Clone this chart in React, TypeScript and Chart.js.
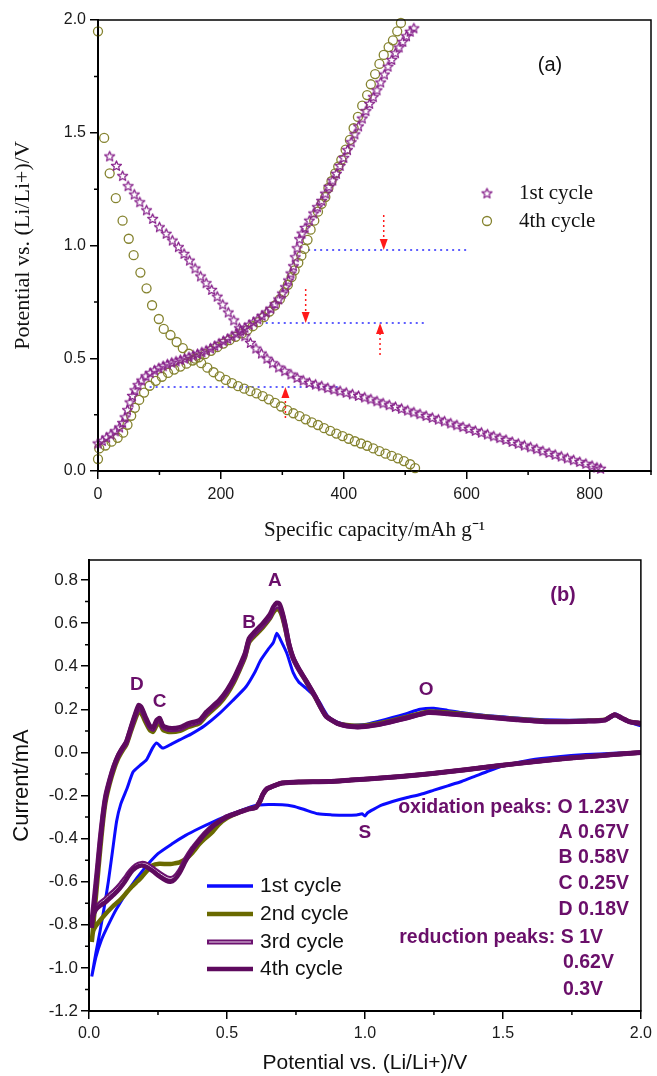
import React, { useEffect, useRef } from 'react';
import { Chart, registerables } from 'chart.js';
Chart.register(...registerables);

// ---------------- Panel (a): charge / discharge profiles ----------------
const cycle1DischargeCap = [19,30,40,49,59,68,79,89,100,111,121,131,140,149,158,167,176,185,194,203,212,221,230,239,248,257,266,275,284,294,304,314,324,334,344,354,364,374,384,394,404,414,424,434,444,454,464,474,484,494,504,514,524,534,544,554,564,574,584,594,604,614,624,634,644,654,664,674,684,694,704,714,724,734,744,754,764,774,784,794,804,812,818];
const cycle1DischargeV = [1.397,1.355,1.31,1.265,1.228,1.194,1.158,1.12,1.083,1.054,1.024,0.995,0.965,0.935,0.9,0.865,0.835,0.805,0.775,0.74,0.705,0.67,0.635,0.6,0.57,0.545,0.523,0.5,0.48,0.461,0.445,0.43,0.415,0.403,0.393,0.385,0.378,0.37,0.363,0.356,0.349,0.342,0.335,0.328,0.32,0.311,0.302,0.294,0.286,0.278,0.27,0.262,0.254,0.246,0.238,0.23,0.222,0.213,0.205,0.197,0.189,0.18,0.172,0.164,0.156,0.148,0.14,0.131,0.123,0.115,0.107,0.099,0.09,0.082,0.074,0.066,0.058,0.05,0.042,0.034,0.025,0.017,0.012];
const cycle1ChargeCap = [0,7,14,21,28,35,40,44,48,52,56,60,65,71,78,85,92,99,106,113,120,127,134,141,148,155,162,169,176,183,190,197,204,211,218,225,232,239,246,253,260,267,274,281,288,294,300,305,310,314,318,321,324,328,332,337,344,351,357,364,370,376,382,388,394,400,406,412,418,424,430,436,442,448,454,460,466,472,478,484,490,496,502,508,514];
const cycle1ChargeV = [0.124,0.135,0.15,0.163,0.178,0.195,0.215,0.24,0.272,0.306,0.335,0.36,0.383,0.403,0.422,0.436,0.448,0.458,0.467,0.475,0.482,0.488,0.494,0.5,0.507,0.514,0.521,0.528,0.536,0.545,0.556,0.567,0.578,0.588,0.599,0.611,0.624,0.637,0.65,0.662,0.675,0.69,0.705,0.722,0.742,0.763,0.789,0.817,0.847,0.878,0.91,0.95,0.99,1.03,1.055,1.08,1.112,1.144,1.172,1.2,1.232,1.262,1.29,1.32,1.355,1.39,1.425,1.46,1.495,1.53,1.565,1.598,1.63,1.66,1.69,1.725,1.76,1.795,1.825,1.855,1.88,1.905,1.93,1.95,1.965];
const cycle4DischargeCap = [0,10,19,29,40,50,58,69,79,88,99,107,118,128,138,148,158,168,178,188,198,208,218,228,238,248,258,268,278,288,298,308,318,328,338,348,358,368,378,388,398,408,418,428,438,448,458,468,478,488,498,508,516];
const cycle4DischargeV = [1.95,1.477,1.32,1.21,1.11,1.03,0.957,0.88,0.81,0.735,0.674,0.63,0.603,0.572,0.545,0.52,0.498,0.478,0.458,0.438,0.42,0.404,0.39,0.376,0.365,0.354,0.344,0.332,0.318,0.302,0.286,0.27,0.256,0.243,0.229,0.216,0.204,0.19,0.178,0.166,0.155,0.143,0.132,0.122,0.112,0.1,0.088,0.077,0.067,0.056,0.044,0.03,0.013];
const cycle4ChargeCap = [0,2,12,22,32,41,48,54,60,67,75,84,94,104,114,124,134,144,154,164,174,184,194,204,214,224,234,243,252,261,270,279,288,296,303,309,315,320,326,331,336,341,346,352,358,364,370,375,380,386,391,396,403,410,416,423,430,438,444,451,458,465,473,480,487,493];
const cycle4ChargeV = [0.053,0.10,0.113,0.13,0.147,0.17,0.205,0.245,0.28,0.315,0.348,0.378,0.4,0.418,0.435,0.45,0.463,0.476,0.49,0.504,0.518,0.533,0.549,0.565,0.58,0.595,0.61,0.625,0.642,0.66,0.682,0.707,0.734,0.762,0.792,0.826,0.86,0.89,0.923,0.955,0.985,1.025,1.07,1.11,1.15,1.185,1.215,1.255,1.285,1.32,1.35,1.38,1.425,1.468,1.52,1.57,1.62,1.667,1.715,1.76,1.805,1.845,1.88,1.91,1.95,1.987];

const capTicks = [0, 200, 400, 600, 800];
const capMinorTicks = [100, 300, 500, 700, 900];
const potTicks = [0, 0.5, 1.0, 1.5, 2.0];
const potMinorTicks = [0.25, 0.75, 1.25, 1.75];

// blue dotted guide lines (potential, from capacity, to capacity)
const guideV = [0.98, 0.656, 0.372];
const guideFrom = [342, 273, 84];
const guideTo = [604, 531, 395];
// red dotted arrows (capacity, tail potential, tip potential)
const arrowCap = [465, 338, 459, 305];
const arrowFrom = [1.135, 0.807, 0.514, 0.235];
const arrowTo = [0.98, 0.656, 0.656, 0.372];
const legendA = ['1st cycle', '4th cycle'];

// ---------------- Panel (b): cyclic voltammetry ----------------
const cv1DownV = [2.0,1.9,1.8,1.7,1.6,1.5,1.45,1.4,1.35,1.3,1.25,1.2,1.15,1.1,1.06,1.03,1.01,1.0,0.99,0.97,0.93,0.88,0.83,0.78,0.74,0.7,0.65,0.6,0.55,0.5,0.45,0.4,0.35,0.3,0.25,0.2,0.15,0.1,0.07,0.045,0.025,0.01];
const cv1DownI = [0.0,-0.004,-0.01,-0.02,-0.035,-0.063,-0.085,-0.11,-0.135,-0.155,-0.175,-0.195,-0.21,-0.228,-0.245,-0.265,-0.28,-0.295,-0.285,-0.29,-0.292,-0.29,-0.285,-0.265,-0.25,-0.243,-0.242,-0.247,-0.27,-0.295,-0.322,-0.352,-0.385,-0.425,-0.47,-0.54,-0.625,-0.725,-0.8,-0.87,-0.95,-1.04];
const cv1UpV = [0.01,0.025,0.04,0.055,0.07,0.085,0.1,0.115,0.137,0.16,0.185,0.208,0.23,0.245,0.267,0.3,0.328,0.37,0.42,0.472,0.52,0.569,0.6,0.623,0.65,0.668,0.681,0.695,0.717,0.74,0.76,0.785,0.81,0.832,0.85,0.868,0.9,0.94,1.0,1.05,1.1,1.15,1.2,1.25,1.3,1.35,1.43,1.5,1.6,1.7,1.8,1.87,1.9,1.91,1.93,1.96,2.0];
const cv1UpI = [-1.04,-0.93,-0.83,-0.72,-0.6,-0.46,-0.32,-0.24,-0.17,-0.09,-0.06,-0.035,0.02,0.044,0.02,0.04,0.058,0.085,0.125,0.18,0.24,0.305,0.37,0.43,0.48,0.51,0.553,0.52,0.46,0.37,0.327,0.3,0.27,0.24,0.2,0.165,0.14,0.127,0.13,0.145,0.162,0.18,0.2,0.205,0.195,0.185,0.172,0.165,0.155,0.15,0.15,0.152,0.168,0.178,0.158,0.14,0.123];

const sweepDownV = [2.0,1.9,1.8,1.67,1.55,1.43,1.3,1.19,1.07,0.95,0.87,0.76,0.7,0.68,0.645,0.63,0.62,0.605,0.58,0.55,0.5,0.47,0.447,0.42,0.4,0.375,0.35,0.328,0.31,0.295,0.28,0.255,0.23,0.21,0.19,0.17,0.15,0.13,0.112,0.09,0.076,0.06,0.04,0.025,0.015,0.01];
const sweepUpV = [0.01,0.02,0.03,0.04,0.05,0.06,0.075,0.09,0.105,0.12,0.135,0.15,0.165,0.18,0.19,0.205,0.22,0.232,0.245,0.256,0.268,0.29,0.33,0.36,0.4,0.425,0.472,0.5,0.525,0.545,0.565,0.58,0.6,0.63,0.655,0.668,0.68,0.69,0.7,0.712,0.724,0.74,0.76,0.786,0.82,0.858,0.9,0.95,1.0,1.07,1.15,1.23,1.3,1.43,1.55,1.67,1.8,1.87,1.905,1.93,1.96,2.0];

const cv2DownI = [0.0,-0.01,-0.02,-0.035,-0.052,-0.07,-0.09,-0.105,-0.118,-0.128,-0.135,-0.137,-0.142,-0.15,-0.17,-0.195,-0.225,-0.255,-0.262,-0.275,-0.305,-0.335,-0.37,-0.4,-0.425,-0.465,-0.495,-0.51,-0.515,-0.518,-0.518,-0.517,-0.525,-0.55,-0.58,-0.605,-0.63,-0.66,-0.685,-0.71,-0.728,-0.75,-0.78,-0.805,-0.83,-0.88];
const cv2UpI = [-0.88,-0.74,-0.6,-0.46,-0.33,-0.23,-0.145,-0.08,-0.03,0.005,0.035,0.09,0.145,0.19,0.18,0.14,0.105,0.095,0.125,0.135,0.105,0.095,0.1,0.118,0.135,0.17,0.225,0.27,0.325,0.38,0.44,0.51,0.54,0.58,0.62,0.65,0.665,0.66,0.63,0.57,0.5,0.435,0.385,0.33,0.255,0.17,0.135,0.125,0.125,0.14,0.165,0.19,0.185,0.168,0.155,0.145,0.147,0.152,0.175,0.16,0.143,0.135];
const cv3DownI = [0.0,-0.01,-0.02,-0.035,-0.052,-0.07,-0.09,-0.105,-0.118,-0.128,-0.135,-0.137,-0.142,-0.15,-0.168,-0.195,-0.225,-0.255,-0.262,-0.275,-0.298,-0.322,-0.342,-0.375,-0.405,-0.445,-0.495,-0.55,-0.578,-0.585,-0.58,-0.56,-0.537,-0.52,-0.515,-0.525,-0.55,-0.585,-0.615,-0.645,-0.66,-0.68,-0.7,-0.72,-0.75,-0.79];
const cv3UpI = [-0.79,-0.67,-0.545,-0.41,-0.295,-0.205,-0.128,-0.065,-0.018,0.015,0.044,0.102,0.16,0.208,0.2,0.156,0.118,0.108,0.142,0.152,0.118,0.106,0.11,0.128,0.143,0.18,0.235,0.282,0.336,0.39,0.45,0.52,0.55,0.59,0.628,0.662,0.68,0.676,0.643,0.58,0.503,0.437,0.386,0.333,0.258,0.17,0.135,0.12,0.12,0.135,0.16,0.185,0.18,0.165,0.152,0.142,0.145,0.15,0.175,0.16,0.142,0.135];
const cv4DownI = [0.0,-0.01,-0.02,-0.035,-0.052,-0.07,-0.09,-0.105,-0.118,-0.128,-0.135,-0.137,-0.142,-0.15,-0.17,-0.195,-0.225,-0.255,-0.262,-0.275,-0.3,-0.322,-0.345,-0.38,-0.41,-0.45,-0.505,-0.56,-0.59,-0.6,-0.595,-0.575,-0.55,-0.533,-0.525,-0.535,-0.56,-0.6,-0.63,-0.66,-0.676,-0.695,-0.712,-0.73,-0.76,-0.815];
const cv4UpI = [-0.815,-0.69,-0.56,-0.42,-0.3,-0.21,-0.13,-0.065,-0.015,0.02,0.05,0.11,0.17,0.22,0.21,0.165,0.125,0.115,0.15,0.16,0.125,0.113,0.117,0.135,0.15,0.188,0.243,0.29,0.345,0.4,0.46,0.53,0.56,0.6,0.64,0.675,0.695,0.69,0.655,0.59,0.51,0.44,0.39,0.335,0.26,0.17,0.135,0.12,0.12,0.135,0.16,0.185,0.18,0.165,0.152,0.142,0.145,0.15,0.175,0.16,0.142,0.135];

const cvLabels = ['1st cycle', '2nd cycle', '3rd cycle', '4th cycle'];
const vTicks = [0, 0.5, 1.0, 1.5, 2.0];
const vMinorTicks = [0.25, 0.75, 1.25, 1.75];
const iTicks = [-1.2, -1.0, -0.8, -0.6, -0.4, -0.2, 0, 0.2, 0.4, 0.6, 0.8];
const iMinorTicks = [-1.1, -0.9, -0.7, -0.5, -0.3, -0.1, 0.1, 0.3, 0.5, 0.7];

const peakLetters = ['A', 'B', 'D', 'C', 'O', 'S'];
const peakLetterV = [0.674, 0.58, 0.173, 0.256, 1.222, 1.0];
const peakLetterI = [0.795, 0.6, 0.314, 0.234, 0.29, -0.373];
const oxidationNotes = ['oxidation peaks: O 1.23V', 'A 0.67V', 'B 0.58V', 'C 0.25V', 'D 0.18V'];
const reductionNotes = ['reduction peaks: S 1V', '0.62V', '0.3V'];

// ---------------- styling ----------------
const SANS = '"Liberation Sans", Arial, sans-serif';
const SERIF = '"Liberation Serif", "Times New Roman", serif';
const STAR = '#86208a';
const CIRCLE = '#85832f';
const BLUE = '#0b0bff';
const OLIVE = '#6a6a00';
const PURPLE3 = '#6c1270';
const PURPLE4 = '#5e0a5e';
const INNER3 = '#ead8ea';
const NOTE = '#6a0f6a';

function pts(xs: number[], ys: number[]) {
  return xs.map((x, i) => ({ x, y: ys[i] }));
}

function makeStar(color: string, r: number) {
  const size = Math.ceil(r * 2 + 4);
  const c = document.createElement('canvas');
  c.width = size;
  c.height = size;
  const g = c.getContext('2d')!;
  g.strokeStyle = color;
  g.lineWidth = 1.25;
  g.lineJoin = 'round';
  g.beginPath();
  const cx = size / 2, cy = size / 2 + 0.6;
  for (let i = 0; i < 10; i++) {
    const ang = -Math.PI / 2 + (i * Math.PI) / 5;
    const rr = i % 2 === 0 ? r : r * 0.45;
    const px = cx + rr * Math.cos(ang), py = cy + rr * Math.sin(ang);
    if (i === 0) g.moveTo(px, py); else g.lineTo(px, py);
  }
  g.closePath();
  g.stroke();
  return c;
}

function txt(ctx: CanvasRenderingContext2D, s: string, x: number, y: number, font: string, color: string, align: CanvasTextAlign = 'left') {
  ctx.save();
  ctx.font = font;
  ctx.fillStyle = color;
  ctx.textAlign = align;
  ctx.textBaseline = 'middle';
  ctx.fillText(s, x, y);
  ctx.restore();
}

function frameAndMinor(chart: any, xMinor: number[], yMinor: number[]) {
  const { ctx, chartArea: a, scales } = chart;
  const x = scales.x, y = scales.y;
  ctx.save();
  ctx.strokeStyle = '#000';
  ctx.lineWidth = 1.5;
  ctx.strokeRect(a.left, a.top, a.right - a.left, a.bottom - a.top);
  ctx.beginPath();
  xMinor.forEach((v) => {
    const px = x.getPixelForValue(v);
    ctx.moveTo(px, a.bottom);
    ctx.lineTo(px, a.bottom + 4);
  });
  yMinor.forEach((v) => {
    const py = y.getPixelForValue(v);
    ctx.moveTo(a.left, py);
    ctx.lineTo(a.left - 4, py);
  });
  ctx.stroke();
  ctx.restore();
}

function axisCommon(tickVals: number[], fmt: (v: number) => string, fontSize: number, pad: number, tickLen: number) {
  return {
    type: 'linear' as const,
    afterBuildTicks: (s: any) => { s.ticks = tickVals.map((v) => ({ value: v })); },
    ticks: {
      callback: (v: any) => fmt(Number(v)),
      font: { family: SANS, size: fontSize },
      color: '#1a1a1a',
      padding: pad,
      maxRotation: 0,
      autoSkip: false,
      includeBounds: false,
    },
    grid: { drawOnChartArea: false, drawTicks: true, tickLength: tickLen, color: '#000', tickColor: '#000', tickWidth: 1.5, lineWidth: 1.5 },
    border: { display: true, color: '#000', width: 2 },
  };
}

function configA(starImg: HTMLCanvasElement): any {
  const plugin = {
    id: 'panelA',
    beforeDatasetsDraw(chart: any) {
      const { ctx, scales: { x, y } } = chart;
      ctx.save();
      ctx.strokeStyle = '#2a2aff';
      ctx.lineWidth = 1.5;
      ctx.setLineDash([2, 4]);
      guideV.forEach((v, i) => {
        const py = y.getPixelForValue(v);
        ctx.beginPath();
        ctx.moveTo(x.getPixelForValue(guideFrom[i]), py);
        ctx.lineTo(x.getPixelForValue(guideTo[i]), py);
        ctx.stroke();
      });
      ctx.restore();
    },
    afterDatasetsDraw(chart: any) {
      const { ctx, chartArea: a, scales: { x, y } } = chart;
      frameAndMinor(chart, capMinorTicks, potMinorTicks);
      // red arrows
      arrowCap.forEach((c, i) => {
        const px = x.getPixelForValue(c);
        const y0 = y.getPixelForValue(arrowFrom[i]);
        const y1 = y.getPixelForValue(arrowTo[i]);
        const dir = y1 > y0 ? 1 : -1;
        const head = 11;
        ctx.save();
        ctx.strokeStyle = '#ff1a1a';
        ctx.fillStyle = '#ff1a1a';
        ctx.lineWidth = 1.5;
        ctx.setLineDash([2, 3]);
        ctx.beginPath();
        ctx.moveTo(px, y0);
        ctx.lineTo(px, y1 - dir * head);
        ctx.stroke();
        ctx.setLineDash([]);
        ctx.beginPath();
        ctx.moveTo(px, y1);
        ctx.lineTo(px - 4, y1 - dir * head);
        ctx.lineTo(px + 4, y1 - dir * head);
        ctx.closePath();
        ctx.fill();
        ctx.restore();
      });
      // legend
      const lx = a.left + 389;
      const rows = [a.top + 173, a.top + 201];
      ctx.drawImage(starImg, lx - starImg.width / 2, rows[0] - starImg.height / 2);
      ctx.save();
      ctx.strokeStyle = CIRCLE;
      ctx.lineWidth = 1.3;
      ctx.beginPath();
      ctx.arc(lx, rows[1], 4.5, 0, Math.PI * 2);
      ctx.stroke();
      ctx.restore();
      legendA.forEach((s, i) => txt(ctx, s, a.left + 421, rows[i], `21px ${SERIF}`, '#111'));
      txt(ctx, '(a)', a.left + 452, a.top + 45, `20px ${SANS}`, '#111', 'center');
    },
  };
  const circleSet = (data: any) => ({
    data, pointStyle: 'circle', pointRadius: 4.5, pointBorderWidth: 1.3, pointBorderColor: CIRCLE,
    pointBackgroundColor: 'rgba(0,0,0,0)', showLine: false, clip: false, order: 1,
  });
  const starSet = (data: any) => ({ data, pointStyle: starImg, pointRadius: 5, showLine: false, clip: false, order: 0 });
  return {
    type: 'scatter',
    data: {
      datasets: [
        starSet(pts(cycle1DischargeCap, cycle1DischargeV)),
        starSet(pts(cycle1ChargeCap, cycle1ChargeV)),
        circleSet(pts(cycle4DischargeCap, cycle4DischargeV)),
        circleSet(pts(cycle4ChargeCap, cycle4ChargeV)),
      ],
    },
    options: {
      animation: false,
      responsive: false,
      devicePixelRatio: 1,
      events: [],
      layout: { padding: { top: 20, right: 3, left: 0, bottom: 0 } },
      plugins: { legend: { display: false }, tooltip: { enabled: false } },
      scales: {
        x: {
          ...axisCommon(capTicks, (v) => String(Math.round(v)), 16, 6, 8),
          min: 0, max: 900,
          afterFit: (s: any) => { s.height = 74; },
          title: { display: true, text: 'Specific capacity/mAh g\u207B\u00B9', font: { family: SERIF, size: 21 }, color: '#111', padding: { top: 0, bottom: 2 } },
        },
        y: {
          ...axisCommon(potTicks, (v) => v.toFixed(1), 16, 4, 8),
          min: 0, max: 2,
          afterFit: (s: any) => { s.width = 98; },
          title: { display: true, text: 'Potential vs. (Li/Li+)/V', font: { family: SERIF, size: 22 }, color: '#111', padding: { top: 10, bottom: 0 } },
        },
      },
    },
    plugins: [plugin],
  };
}

function configB(): any {
  const plugin = {
    id: 'panelB',
    afterDatasetsDraw(chart: any) {
      const { ctx, chartArea: a, scales: { x, y } } = chart;
      frameAndMinor(chart, vMinorTicks, iMinorTicks);
      peakLetters.forEach((s, i) => txt(ctx, s, x.getPixelForValue(peakLetterV[i]), y.getPixelForValue(peakLetterI[i]), `bold 19px ${SANS}`, NOTE, 'center'));
      txt(ctx, '(b)', a.left + 474, a.top + 35, `bold 20px ${SANS}`, NOTE, 'center');
      const oxRows = [248, 273, 298, 324, 350];
      oxidationNotes.forEach((s, i) => txt(ctx, s, a.left + 540, a.top + oxRows[i], `bold 19.5px ${SANS}`, NOTE, 'right'));
      txt(ctx, reductionNotes[0], a.left + 514, a.top + 378, `bold 19.5px ${SANS}`, NOTE, 'right');
      txt(ctx, reductionNotes[1], a.left + 474, a.top + 403, `bold 19.5px ${SANS}`, NOTE, 'left');
      txt(ctx, reductionNotes[2], a.left + 474, a.top + 430, `bold 19.5px ${SANS}`, NOTE, 'left');
      // legend
      const rows = [326, 354, 382, 409];
      const cols = [BLUE, OLIVE, PURPLE3, PURPLE4];
      cvLabels.forEach((s, i) => {
        const yy = a.top + rows[i];
        ctx.save();
        ctx.strokeStyle = cols[i];
        ctx.lineWidth = i === 0 ? 3.5 : i === 2 ? 5 : 4.5;
        ctx.beginPath();
        ctx.moveTo(a.left + 118, yy);
        ctx.lineTo(a.left + 164, yy);
        ctx.stroke();
        if (i === 2) {
          ctx.strokeStyle = INNER3;
          ctx.lineWidth = 1;
          ctx.beginPath();
          ctx.moveTo(a.left + 120, yy);
          ctx.lineTo(a.left + 162, yy);
          ctx.stroke();
        }
        ctx.restore();
        txt(ctx, s, a.left + 171, yy, `21px ${SANS}`, '#111');
      });
    },
  };
  const line = (data: any, color: string, width: number, order: number) => ({
    data, borderColor: color, borderWidth: width, pointRadius: 0, showLine: true, tension: 0.2, order, fill: false,
  });
  const c1 = pts(cv1DownV, cv1DownI).concat(pts(cv1UpV, cv1UpI));
  const c2 = pts(sweepDownV, cv2DownI).concat(pts(sweepUpV, cv2UpI));
  const c3 = pts(sweepDownV, cv3DownI).concat(pts(sweepUpV, cv3UpI));
  const c4 = pts(sweepDownV, cv4DownI).concat(pts(sweepUpV, cv4UpI));
  return {
    type: 'scatter',
    data: {
      datasets: [
        line(c4, PURPLE4, 4.5, 0),
        line(c3, INNER3, 1, 1),
        line(c3, PURPLE3, 5, 2),
        line(c2, OLIVE, 4.5, 3),
        line(c1, BLUE, 3, 4),
      ],
    },
    options: {
      animation: false,
      responsive: false,
      devicePixelRatio: 1,
      events: [],
      layout: { padding: { top: 15, right: 13, left: 0, bottom: 0 } },
      plugins: { legend: { display: false }, tooltip: { enabled: false } },
      scales: {
        x: {
          ...axisCommon(vTicks, (v) => v.toFixed(1), 16, 5, 8),
          min: 0, max: 2,
          afterFit: (s: any) => { s.height = 65; },
          title: { display: true, text: 'Potential vs. (Li/Li+)/V', font: { family: SANS, size: 21 }, color: '#111', padding: { top: 0, bottom: 0 } },
        },
        y: {
          ...axisCommon(iTicks, (v) => v.toFixed(1), 17, 3, 8),
          min: -1.2, max: 0.893,
          afterFit: (s: any) => { s.width = 89; },
          title: { display: true, text: 'Current/mA', font: { family: SANS, size: 22 }, color: '#111', padding: { top: 9, bottom: 0 } },
        },
      },
    },
    plugins: [plugin],
  };
}

export default function App() {
  const refA = useRef<HTMLCanvasElement>(null);
  const refB = useRef<HTMLCanvasElement>(null);
  useEffect(() => {
    const starImg = makeStar(STAR, 5.2);
    const a = new Chart(refA.current!, configA(starImg));
    const b = new Chart(refB.current!, configB());
    return () => {
      a.destroy();
      b.destroy();
    };
  }, []);
  return (
    <div style={{ position: 'fixed', left: 0, top: 0, width: 657, height: 1076, background: '#fff' }}>
      <canvas ref={refA} width={657} height={545} style={{ position: 'absolute', left: 0, top: 0 }} />
      <canvas ref={refB} width={657} height={531} style={{ position: 'absolute', left: 0, top: 545 }} />
    </div>
  );
}
